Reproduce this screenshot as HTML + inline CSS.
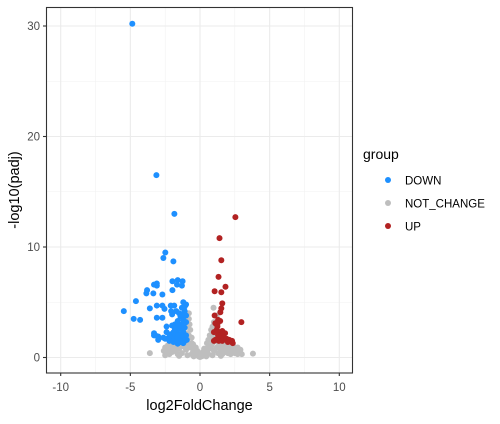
<!DOCTYPE html>
<html><head><meta charset="utf-8"><style>
body{margin:0;background:#fff;}
svg text{font-family:"Liberation Sans",Arial,sans-serif;}
</style></head><body>
<svg id="chart" width="500" height="419" xmlns="http://www.w3.org/2000/svg">
<rect x="0" y="0" width="500" height="419" fill="#fff"/>
<g id="grid"></g>
<g id="points"></g>
<rect x="46.5" y="7.5" width="306" height="365.5" fill="none" stroke="#333" stroke-width="1.1"/>
<g id="axes"></g>
<text x="199.5" y="410" font-size="14.5" text-anchor="middle" fill="#000">log2FoldChange</text>
<text transform="translate(19,190) rotate(-90)" font-size="14.5" text-anchor="middle" fill="#000">-log10(padj)</text>
<g>
<text x="363" y="159" font-size="14" fill="#000">group</text>
<circle cx="388" cy="180" r="3" fill="#1E90FF"/>
<text x="405" y="184.5" font-size="11.5" fill="#000">DOWN</text>
<circle cx="388" cy="203" r="3" fill="#BEBEBE"/>
<text x="405" y="207.5" font-size="11.5" fill="#000">NOT_CHANGE</text>
<circle cx="388" cy="226" r="3" fill="#B22222"/>
<text x="405" y="230.5" font-size="11.5" fill="#000">UP</text>
</g>
</svg>
<script>
const xTicks=[-10,-5,0,5,10];
const yTicks=[0,10,20,30];
const xMinor=[-7.5,-2.5,2.5,7.5];
const yMinor=[5,15,25];
const notChange=[[0,0.05],[0.1,0.1],[-0.1,0.1],[0.2,0.15],[-0.2,0.2],[0.3,0.3],[-0.3,0.3],[0.4,0.25],[-0.4,0.4],[0.5,0.5],[-0.5,0.5],[0.6,0.3],[-0.6,0.3],[0.7,0.8],[-0.7,0.9],[0.8,1.0],[-0.8,1.1],[0.9,1.3],[-0.9,1.4],[1.0,0.6],[-1.0,0.7],[1.1,1.5],[-1.1,1.6],[1.2,0.9],[-1.2,1.0],[1.3,0.4],[-1.3,0.4],[1.4,1.1],[-1.4,1.2],[1.5,0.7],[-1.5,0.8],[1.6,0.3],[-1.6,0.3],[1.7,0.9],[-1.7,0.9],[1.8,0.5],[-1.8,0.6],[1.9,1.0],[-1.9,1.1],[2.0,0.4],[-2.0,0.5],[2.1,0.8],[-2.1,0.8],[2.2,0.3],[-2.2,0.3],[2.3,0.6],[-2.3,0.6],[2.5,0.4],[-2.4,0.5],[2.6,0.7],[2.7,0.3],[2.8,0.6],[3.0,0.3],[3.8,0.35],[-3.6,0.4],[-2.5,0.2],[-0.8,2.0],[-0.7,2.5],[-0.75,3.0],[-0.8,3.5],[-0.8,4.0],[-0.9,2.8],[-1.0,2.2],[-0.6,1.8],[-0.5,1.2],[-0.4,0.9],[0.5,1.3],[0.6,1.6],[0.7,2.0],[0.8,2.5],[0.9,2.8],[1.0,3.2],[0.97,4.5],[1.2,3.8],[1.1,2.6],[0.8,1.8],[1.0,2.0],[1.2,1.8],[1.3,1.4],[1.6,1.3],[2.0,1.2],[2.4,1.0],[2.7,0.9],[-1.2,1.8],[-1.5,1.4],[-2.0,1.2],[-2.3,1.1],[-2.5,0.9],[-1.8,1.5],[0.2,0.5],[-0.2,0.6],[0.3,0.8],[-0.3,0.9],[0.1,0.2],[-0.1,0.3],[0.45,0.1],[-0.45,0.1],[0.9,0.2],[-0.9,0.2],[1.5,0.15],[-1.5,0.15],[-2.2,0.8],[2.9,0.7],[-2.6,0.6],[0.6,1.0],[-0.6,1.3]];
const down=[[-4.86,30.2],[-3.13,16.5],[-1.84,13.0],[-2.49,9.5],[-2.63,9.0],[-1.91,8.7],[-1.98,6.9],[-1.6,7.0],[-1.25,6.9],[-1.65,6.6],[-1.3,6.5],[-3.1,6.7],[-3.3,6.6],[-3.1,6.5],[-3.8,6.1],[-3.85,5.8],[-3.35,5.8],[-2.7,5.7],[-1.98,6.1],[-4.6,5.1],[-5.47,4.2],[-3.6,4.45],[-3.1,4.7],[-2.7,4.7],[-2.55,4.4],[-2.1,4.7],[-1.85,4.7],[-4.76,3.5],[-4.3,3.4],[-3.1,3.6],[-2.7,3.6],[-2.07,4.2],[-2.0,3.9],[-3.3,2.2],[-3.3,2.0],[-3.0,1.9],[-3.2,2.0],[-3.0,1.6],[-2.63,1.8],[-2.4,2.8],[-1.2,5.0],[-1.0,4.8],[-1.3,4.5],[-1.1,4.2],[-1.5,4.0],[-1.4,3.7],[-1.2,3.4],[-1.0,3.2],[-1.6,3.3],[-1.8,3.0],[-2.0,2.9],[-1.3,3.0],[-1.1,2.7],[-1.5,2.6],[-1.7,2.4],[-1.9,2.3],[-2.1,2.1],[-1.2,2.3],[-1.4,2.1],[-1.6,2.0],[-1.0,2.0],[-1.8,1.9],[-2.0,1.7],[-1.3,1.8],[-1.5,1.6],[-1.7,1.5],[-1.1,1.5],[-1.4,1.4],[-1.9,1.4],[-2.2,1.9],[-2.4,2.3],[-1.2,1.3],[-1.6,1.25],[-0.95,1.6],[-1.0,3.8],[-1.1,4.6],[-1.7,4.2],[-1.3,3.9],[-1.5,2.9],[-1.8,2.6],[-1.2,2.7],[-1.6,1.8],[-2.2,1.5],[-2.5,1.7]];
const up=[[2.54,12.7],[1.4,10.8],[1.53,8.8],[1.33,7.3],[1.83,6.4],[1.05,6.0],[1.53,5.9],[1.6,4.9],[1.53,4.45],[1.46,4.1],[2.97,3.2],[1.05,3.8],[1.3,3.4],[1.1,3.1],[1.25,3.0],[1.0,2.3],[1.2,2.5],[1.4,2.3],[1.6,2.4],[1.8,2.2],[1.3,2.0],[1.5,1.9],[1.7,1.8],[1.9,1.7],[2.1,1.6],[1.1,1.6],[1.35,1.5],[1.6,1.5],[1.0,1.5],[2.0,1.4],[1.25,2.8],[1.45,3.3],[2.3,1.5],[2.35,1.3]];
const NS='http://www.w3.org/2000/svg';
function sx(v){return 200+v*13.93;}
function sy(v){return 357.5-v*11.05;}
function mk(tag,attrs,parent){const e=document.createElementNS(NS,tag);for(const k in attrs)e.setAttribute(k,attrs[k]);parent.appendChild(e);return e;}
const grid=document.getElementById('grid'),axes=document.getElementById('axes'),pts=document.getElementById('points');
xMinor.forEach(v=>{const l=mk('line',{x1:sx(v),x2:sx(v),y1:7.5,y2:373,stroke:'#f2f2f2','stroke-width':0.6},grid);

});
yMinor.forEach(v=>{const l=mk('line',{x1:46.5,x2:352.5,y1:sy(v),y2:sy(v),stroke:'#f2f2f2','stroke-width':0.6},grid);

});
xTicks.forEach(v=>{const l=mk('line',{x1:sx(v),x2:sx(v),y1:7.5,y2:373,stroke:'#ebebeb','stroke-width':1.1},grid);


const t=mk('line',{x1:sx(v),x2:sx(v),y1:373,y2:376,stroke:'#333','stroke-width':1.1},axes);


const tx=mk('text',{x:sx(v),y:391,'font-size':11.5,'text-anchor':'middle',fill:'#4d4d4d'},axes);tx.textContent=v;

});
yTicks.forEach(v=>{const l=mk('line',{x1:46.5,x2:352.5,y1:sy(v),y2:sy(v),stroke:'#ebebeb','stroke-width':1.1},grid);


const t=mk('line',{x1:43,x2:46.5,y1:sy(v),y2:sy(v),stroke:'#333','stroke-width':1.1},axes);


const tx=mk('text',{x:40,y:sy(v)+4,'font-size':11.5,'text-anchor':'end',fill:'#4d4d4d'},axes);tx.textContent=v;

});
function draw(arr,color,name){arr.forEach(p=>{const c=mk('circle',{cx:sx(p[0]),cy:sy(p[1]),r:3,fill:color},pts);

});}
draw(notChange,'#BEBEBE','point-not-change');
draw(down,'#1E90FF','point-down');
draw(up,'#B22222','point-up');
</script>
</body></html>
